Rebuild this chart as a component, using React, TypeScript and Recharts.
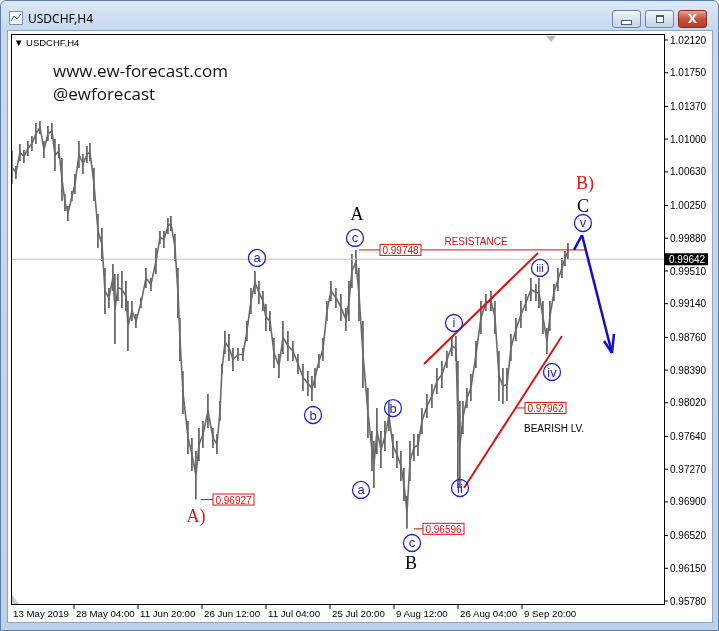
import React from "react";
import { ComposedChart, Bar, Line, XAxis, YAxis, ReferenceLine, ReferenceDot } from "recharts";

// bar position (H4 bars from the left edge), high and low of each sampled group of bars
const barIdx = [
  1, 5, 9, 13, 17, 21, 25, 29, 33, 37,
  41, 44, 48, 51, 54, 57, 61, 64, 68, 72,
  76, 79, 83, 87, 91, 94, 98, 102, 104, 107,
  111, 115, 117, 121, 125, 130, 135, 140, 145, 149,
  153, 157, 160, 164, 167, 169, 172, 177, 181, 185,
  188, 192, 197, 202, 206, 209, 211, 214, 218, 222,
  227, 232, 236, 240, 244, 248, 252, 255, 259, 263,
  268, 272, 277, 282, 287, 292, 297, 301, 304, 308,
  312, 316, 320, 325, 330, 335, 338, 341, 345, 348,
  352, 357, 361, 363, 366, 370, 374, 378, 382, 386,
  390, 393, 396, 399, 403, 407, 411, 416, 421, 426,
  431, 436, 441, 445, 447, 449, 452, 456, 460, 465,
  470, 475, 480, 484, 488, 492, 496, 500, 505, 510,
  515, 520, 525, 528, 532, 536, 539, 543, 547, 551,
  554, 557,
];

const highs = [
  1.00866, 1.00696, 1.00945, 1.00877, 1.00979, 1.01035, 1.01182, 1.01205, 1.00979, 1.01148,
  1.01182, 1.01001, 1.00945, 1.00787, 1.0038, 1.00244, 1.00414, 1.00606, 1.00979, 1.00832,
  1.00922, 1.00956, 1.00673, 1.00154, 0.99995, 0.99544, 0.99318, 0.99589, 0.99476, 0.99476,
  0.9951, 0.99397, 0.99171, 0.99171, 0.99024, 0.99205, 0.99544, 0.99431, 0.9977, 0.99962,
  0.99962, 1.00109, 1.00131, 0.99928, 0.99544, 0.98978, 0.9838, 0.97815, 0.97622, 0.97476,
  0.97735, 0.97815, 0.9812, 0.97735, 0.97668, 0.98041, 0.98459, 0.98832, 0.98798, 0.9864,
  0.9864, 0.9864, 0.98945, 0.99318, 0.9951, 0.99397, 0.99284, 0.99137, 0.99058, 0.98753,
  0.98572, 0.98945, 0.98832, 0.98719, 0.98572, 0.98459, 0.9838, 0.98323, 0.98414, 0.98572,
  0.98753, 0.99171, 0.99397, 0.99318, 0.9925, 0.99091, 0.99397, 0.99702, 0.99748, 0.99544,
  0.98945, 0.98187, 0.97702, 0.97589, 0.97961, 0.97702, 0.97815, 0.98041, 0.97668, 0.97589,
  0.97476, 0.97283, 0.96967, 0.97589, 0.97668, 0.97668, 0.97961, 0.9812, 0.98233, 0.98414,
  0.98493, 0.98606, 0.98775, 0.98775, 0.98493, 0.98041, 0.98041, 0.98187, 0.98346, 0.98719,
  0.99171, 0.9925, 0.99284, 0.99171, 0.98606, 0.98414, 0.98414, 0.98798, 0.98978, 0.99171,
  0.9925, 0.99431, 0.99363, 0.99431, 0.99171, 0.98865, 0.99171, 0.99363, 0.99544, 0.99657,
  0.99736, 0.99826,
];

const lows = [
  1.00493, 1.00549, 1.00753, 1.0073, 1.00809, 1.00866, 1.00945, 1.01058, 1.00787, 1.00979,
  1.01001, 1.0064, 1.00787, 1.00301, 1.00188, 1.00075, 1.00301, 1.0038, 1.00673, 1.00606,
  1.0073, 1.00753, 1.00301, 0.9977, 0.99623, 0.99024, 0.99091, 0.99284, 0.98685, 0.99171,
  0.99091, 0.99058, 0.98606, 0.98945, 0.98865, 0.99091, 0.99318, 0.99284, 0.99476, 0.99815,
  0.9977, 0.99928, 0.99962, 0.99623, 0.98978, 0.98493, 0.97894, 0.97442, 0.97249, 0.96927,
  0.97362, 0.97509, 0.97735, 0.97509, 0.97442, 0.97815, 0.98346, 0.98572, 0.98493, 0.9838,
  0.98493, 0.98493, 0.98719, 0.99024, 0.9925, 0.99137, 0.99058, 0.98832, 0.98832, 0.98414,
  0.983, 0.98572, 0.98493, 0.98493, 0.98346, 0.98154, 0.98097, 0.98041, 0.98187, 0.98414,
  0.98493, 0.98945, 0.99171, 0.99091, 0.98945, 0.98832, 0.98945, 0.99318, 0.99476, 0.98945,
  0.98187, 0.97622, 0.97249, 0.97057, 0.97442, 0.97283, 0.97476, 0.97702, 0.97396, 0.97283,
  0.97136, 0.9691, 0.96596, 0.97136, 0.97362, 0.97419, 0.97668, 0.97848, 0.97961, 0.9812,
  0.98187, 0.98414, 0.9855, 0.98493, 0.97057, 0.97057, 0.97668, 0.97961, 0.98041, 0.98414,
  0.98798, 0.99058, 0.99058, 0.98798, 0.98041, 0.98007, 0.98041, 0.98493, 0.98719, 0.98865,
  0.99058, 0.99171, 0.99171, 0.99091, 0.98798, 0.98572, 0.98832, 0.99171, 0.99284, 0.99431,
  0.99566, 0.99642,
];

const lastPrice = 0.99642;

const timeTicks = [0, 63, 127, 191, 255, 319, 383, 447, 511];
const timeLabels = [
  "13 May 2019", "28 May 04:00", "11 Jun 20:00", "26 Jun 12:00", "11 Jul 04:00",
  "25 Jul 20:00", "9 Aug 12:00", "26 Aug 04:00", "9 Sep 20:00",
];
const priceTicks = [
  0.9578, 0.9615, 0.9652, 0.969, 0.9727, 0.9764, 0.9802, 0.9839, 0.9876,
  0.9914, 0.9951, 0.9988, 1.0025, 1.0063, 1.01, 1.0137, 1.0175, 1.0212,
];

// wave count labels
const circled = [
  { x: 246, p: 0.99657, t: "a" },
  { x: 302, p: 0.97882, t: "b" },
  { x: 344, p: 0.99883, t: "c" },
  { x: 350, p: 0.97035, t: "a" },
  { x: 382, p: 0.97961, t: "b" },
  { x: 401, p: 0.96436, t: "c" },
  { x: 443, p: 0.98922, t: "i" },
  { x: 449, p: 0.97057, t: "ii" },
  { x: 529, p: 0.99544, t: "iii" },
  { x: 541, p: 0.98368, t: "iv" },
  { x: 572, p: 1.00052, t: "v" },
];
const bigLabels = [
  { x: 346, p: 1.00154, t: "A", c: "#000" },
  { x: 400, p: 0.9621, t: "B", c: "#000" },
  { x: 572, p: 1.00244, t: "C", c: "#000" },
  { x: 185, p: 0.96741, t: "A)", c: "#e81414" },
  { x: 574, p: 1.00504, t: "B)", c: "#e81414" },
];
const priceTags = [
  { x: 190, p: 0.96927, lead: 12 },
  { x: 403, p: 0.96596, lead: 9 },
  { x: 505, p: 0.97962, lead: 9 },
  { x: 369, p: 0.99748, lead: 0 },
];
const redLines = [
  { a: [348, 0.99748], b: [575, 0.99748], w: 1 },
  { a: [413, 0.98459], b: [527, 0.99713], w: 2 },
  { a: [453, 0.97057], b: [551, 0.98775], w: 2 },
];
const arrowPath = [
  [563, 0.99748],
  [571, 0.99916],
  [601, 0.98583],
];
const arrowBarbs = [
  [593, 0.98719],
  [603, 0.98798],
];

const data = barIdx.map((x, i) => ({
  x,
  range: [lows[i], highs[i]],
  mid: (lows[i] + highs[i]) / 2,
}));

const FONT = "'Liberation Sans', Arial, sans-serif";
const BLUE = "#2222d6";
const RED = "#dd1111";

const TimeTick = (props: any) => {
  const { x, y, payload } = props;
  const i = timeTicks.indexOf(payload.value);
  return (
    <g>
      {i > 0 && <line x1={x} x2={x} y1={y} y2={y + 5} stroke="#000" />}
      <text x={x + 2} y={y + 13} fontSize={9.7} fontFamily={FONT} fill="#000">
        {timeLabels[i]}
      </text>
    </g>
  );
};

function WindowButton({ left, children, red }: any) {
  return (
    <div
      style={{
        position: "absolute",
        left,
        top: 9,
        width: 29,
        height: 18,
        boxSizing: "border-box",
        borderRadius: 3,
        border: red ? "1px solid #8b2a22" : "1px solid #6f86a6",
        background: red
          ? "linear-gradient(#e8a395, #c8503c 50%, #b93a26)"
          : "linear-gradient(#f2f6fb, #d7e3f1 50%, #c4d5ea)",
        display: "flex",
        alignItems: "center",
        justifyContent: "center",
      }}
    >
      {children}
    </div>
  );
}

export default function App() {
  return (
    <div
      style={{
        position: "fixed",
        left: 0,
        top: 0,
        width: 719,
        height: 631,
        boxSizing: "border-box",
        border: "1px solid #5f7fa6",
        borderRadius: "6px 6px 0 0",
        background: "linear-gradient(#dce8f5, #c6d9ee 28px, #bcd2ea)",
        overflow: "hidden",
      }}
    >
      <svg style={{ position: "absolute", left: 8, top: 10 }} width={14} height={14}>
        <rect x={0.5} y={0.5} width={13} height={13} fill="#f4f8fc" stroke="#7a90b0" />
        <polyline points="2,10 5,5 8,8 12,3" fill="none" stroke="#3a5f9a" strokeWidth={1} />
      </svg>
      <div
        style={{
          position: "absolute",
          left: 27,
          top: 9,
          fontFamily: "'Noto Sans', 'DejaVu Sans', sans-serif",
          fontSize: 12,
          color: "#000",
        }}
      >
        USDCHF,H4
      </div>
      <WindowButton left={611}>
        <div style={{ width: 9, height: 3, marginTop: 6, background: "#fff", border: "1px solid #4a5a70" }} />
      </WindowButton>
      <WindowButton left={644}>
        <div style={{ width: 6, height: 5, border: "1px solid #4a5a70", borderTopWidth: 2, background: "#fff" }} />
      </WindowButton>
      <WindowButton left={677} red>
        <span style={{ color: "#fff", fontFamily: "'DejaVu Sans', sans-serif", fontWeight: 700, fontSize: 12 }}>X</span>
      </WindowButton>

      <div
        style={{
          position: "absolute",
          left: 6,
          top: 29,
          width: 706,
          height: 593,
          boxSizing: "border-box",
          background: "#fff",
          border: "1px solid #8ea5c2",
        }}
      />

      <div style={{ position: "absolute", left: 0, top: 0 }}>
        <ComposedChart
          width={719}
          height={631}
          data={data}
          margin={{ top: 33, left: 10, right: 0, bottom: 0 }}
        >
          <XAxis
            dataKey="x"
            type="number"
            domain={[0, 653]}
            allowDataOverflow
            ticks={timeTicks}
            interval={0}
            height={28}
            axisLine={false}
            tickLine={false}
            tickSize={0}
            tickMargin={0}
            tick={<TimeTick />}
          />
          <YAxis
            orientation="right"
            type="number"
            domain={[0.957464, 1.021878]}
            allowDataOverflow
            ticks={priceTicks}
            interval={0}
            width={56}
            axisLine={false}
            tickLine={{ stroke: "#000" }}
            tickSize={4}
            tickMargin={2}
            tick={{ fontSize: 10, fill: "#000", fontFamily: FONT }}
            tickFormatter={(v: number) => v.toFixed(5)}
          />
          <ReferenceLine y={lastPrice} stroke="#c4c4c4" strokeWidth={1} />
          <Bar dataKey="range" barSize={3} fill="#6a6a6a" isAnimationActive={false} />
          <Line
            dataKey="mid"
            type="linear"
            stroke="#6a6a6a"
            strokeWidth={1.6}
            dot={false}
            isAnimationActive={false}
          />

          {redLines.map((l, i) => (
            <ReferenceLine
              key={"r" + i}
              segment={[
                { x: l.a[0], y: l.a[1] },
                { x: l.b[0], y: l.b[1] },
              ]}
              stroke={RED}
              strokeWidth={l.w}
              ifOverflow="visible"
            />
          ))}
          {arrowPath.slice(1).map((pt, i) => (
            <ReferenceLine
              key={"a" + i}
              segment={[
                { x: arrowPath[i][0], y: arrowPath[i][1] },
                { x: pt[0], y: pt[1] },
              ]}
              stroke="#1010c8"
              strokeWidth={2.5}
              ifOverflow="visible"
            />
          ))}
          {arrowBarbs.map((pt, i) => (
            <ReferenceLine
              key={"b" + i}
              segment={[
                { x: pt[0], y: pt[1] },
                { x: arrowPath[2][0], y: arrowPath[2][1] },
              ]}
              stroke="#1010c8"
              strokeWidth={2.5}
              ifOverflow="visible"
            />
          ))}

          {priceTags.map((t, i) => (
            <ReferenceDot
              key={"t" + i}
              x={t.x}
              y={t.p}
              ifOverflow="visible"
              shape={(props: any) => {
                const bx = props.cx + t.lead;
                return (
                  <g>
                    {t.lead > 0 && (
                      <line x1={props.cx} x2={bx} y1={props.cy} y2={props.cy} stroke={RED} strokeWidth={1} />
                    )}
                    <rect x={bx} y={props.cy - 5.5} width={41} height={11} fill="#fff" stroke={RED} strokeWidth={1} />
                    <text
                      x={bx + 20.5}
                      y={props.cy + 4}
                      textAnchor="middle"
                      fontSize={10}
                      fontFamily={FONT}
                      fill={RED}
                    >
                      {t.p.toFixed(5)}
                    </text>
                  </g>
                );
              }}
            />
          ))}

          <ReferenceDot
            x={465}
            y={0.99849}
            ifOverflow="visible"
            shape={(props: any) => (
              <text x={props.cx} y={props.cy + 4} textAnchor="middle" fontSize={10} fontFamily={FONT} fill={RED}>
                RESISTANCE
              </text>
            )}
          />
          <ReferenceDot
            x={513}
            y={0.97736}
            ifOverflow="visible"
            shape={(props: any) => (
              <text x={props.cx} y={props.cy + 4} fontSize={10} fontFamily={FONT} fill="#000">
                BEARISH LV.
              </text>
            )}
          />

          {circled.map((c, i) => (
            <ReferenceDot
              key={"c" + i}
              x={c.x}
              y={c.p}
              ifOverflow="visible"
              shape={(props: any) => (
                <g>
                  <circle cx={props.cx} cy={props.cy} r={8.5} fill="none" stroke={BLUE} strokeWidth={1.3} />
                  <text
                    x={props.cx}
                    y={props.cy + 4.5}
                    textAnchor="middle"
                    fontSize={c.t.length > 2 ? 11 : 13}
                    fontFamily={FONT}
                    fill={BLUE}
                  >
                    {c.t}
                  </text>
                </g>
              )}
            />
          ))}
          {bigLabels.map((b, i) => (
            <ReferenceDot
              key={"l" + i}
              x={b.x}
              y={b.p}
              ifOverflow="visible"
              shape={(props: any) => (
                <text
                  x={props.cx}
                  y={props.cy + 6}
                  textAnchor="middle"
                  fontSize={18}
                  fontFamily="'Liberation Serif', 'Times New Roman', serif"
                  fill={b.c}
                >
                  {b.t}
                </text>
              )}
            />
          ))}

          <ReferenceDot
            x={653}
            y={lastPrice}
            ifOverflow="visible"
            shape={(props: any) => (
              <g>
                <rect x={props.cx + 1} y={props.cy - 6} width={43} height={12} fill="#000" />
                <text x={props.cx + 5} y={props.cy + 4} fontSize={10} fontFamily={FONT} fill="#fff">
                  {lastPrice.toFixed(5)}
                </text>
              </g>
            )}
          />
        </ComposedChart>
      </div>

      <div
        style={{
          position: "absolute",
          left: 10,
          top: 33,
          width: 654,
          height: 571,
          boxSizing: "border-box",
          border: "1px solid #000",
          pointerEvents: "none",
        }}
      />
      <svg style={{ position: "absolute", left: 544, top: 34 }} width={12} height={8}>
        <polygon points="1,1 11,1 6,7" fill="#b8b8b8" />
      </svg>
      <svg style={{ position: "absolute", left: 11, top: 594 }} width={8} height={9}>
        <polygon points="0,0 0,9 7,9" fill="#c8c8c8" />
      </svg>
      <div
        style={{
          position: "absolute",
          left: 13,
          top: 36,
          fontFamily: FONT,
          fontSize: 9.5,
          color: "#000",
        }}
      >
        ▼ USDCHF,H4
      </div>
      <div
        style={{
          position: "absolute",
          left: 52,
          top: 58,
          fontFamily: "'Open Sans', 'Noto Sans', sans-serif",
          fontSize: 17,
          lineHeight: "23px",
          color: "#111",
        }}
      >
        www.ew-forecast.com
        <br />
        @ewforecast
      </div>
    </div>
  );
}
